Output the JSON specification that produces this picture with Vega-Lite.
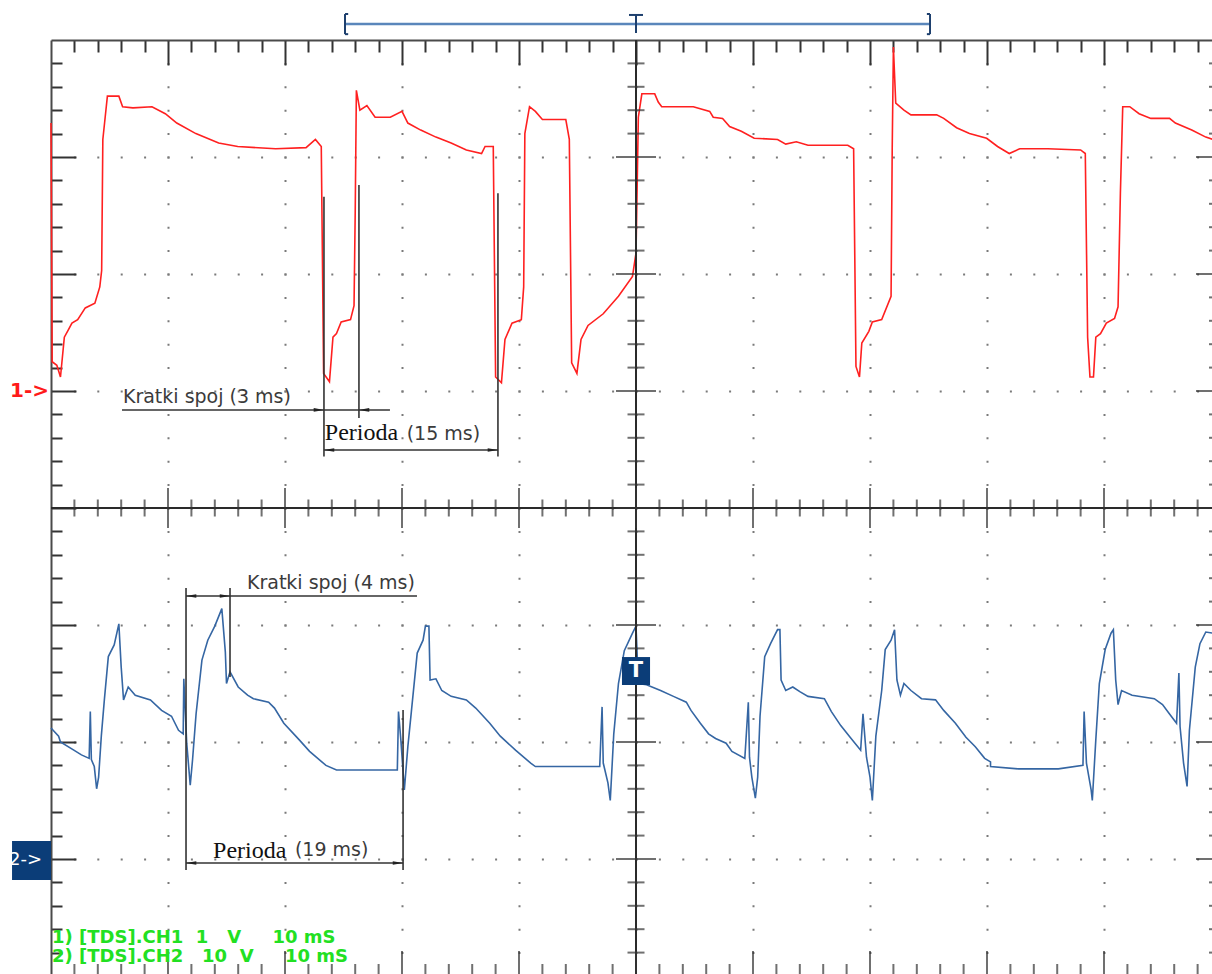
{
  "$schema": "https://vega.github.io/schema/vega-lite/v6.json",
  "width": 1161,
  "height": 934,
  "autosize": "none",
  "padding": {"left": 51, "top": 40, "right": 0, "bottom": 0},
  "background": "white",
  "config": {"view": {"stroke": null}},
  "resolve": {"axis": {"x": "independent", "y": "independent"}, "scale": {"color": "independent", "shape": "independent"}},
  "datasets": {
    "wave": [
      {"ch":"CH1","t":0,"v":3.29},{"ch":"CH1","t":0.1,"v":1.25},{"ch":"CH1","t":0.5,"v":1.22},{"ch":"CH1","t":0.81,"v":1.12},{"ch":"CH1","t":1.14,"v":1.46},{"ch":"CH1","t":1.47,"v":1.52},{"ch":"CH1","t":1.79,"v":1.58},{"ch":"CH1","t":2.28,"v":1.61},{"ch":"CH1","t":2.93,"v":1.71},{"ch":"CH1","t":3.75,"v":1.75},{"ch":"CH1","t":4.17,"v":1.89},{"ch":"CH1","t":4.33,"v":2.03},{"ch":"CH1","t":4.43,"v":3.15},{"ch":"CH1","t":4.63,"v":3.34},{"ch":"CH1","t":4.82,"v":3.52},{"ch":"CH1","t":5.8,"v":3.52},{"ch":"CH1","t":6.12,"v":3.43},{"ch":"CH1","t":7.0,"v":3.42},{"ch":"CH1","t":8.63,"v":3.43},{"ch":"CH1","t":9.77,"v":3.37},{"ch":"CH1","t":10.75,"v":3.29},{"ch":"CH1","t":12.38,"v":3.2},{"ch":"CH1","t":14.33,"v":3.12},{"ch":"CH1","t":15.96,"v":3.09},{"ch":"CH1","t":19.2,"v":3.07},{"ch":"CH1","t":21.8,"v":3.08},{"ch":"CH1","t":22.6,"v":3.15},{"ch":"CH1","t":23.1,"v":3.09},{"ch":"CH1","t":23.3,"v":1.15},{"ch":"CH1","t":23.8,"v":1.08},{"ch":"CH1","t":24.1,"v":1.46},{"ch":"CH1","t":24.4,"v":1.49},{"ch":"CH1","t":24.8,"v":1.59},{"ch":"CH1","t":25.6,"v":1.61},{"ch":"CH1","t":25.9,"v":1.73},{"ch":"CH1","t":26.0,"v":2.52},{"ch":"CH1","t":26.1,"v":3.57},{"ch":"CH1","t":26.4,"v":3.4},{"ch":"CH1","t":27.0,"v":3.44},{"ch":"CH1","t":27.7,"v":3.34},{"ch":"CH1","t":29.0,"v":3.34},{"ch":"CH1","t":30.0,"v":3.39},{"ch":"CH1","t":30.5,"v":3.29},{"ch":"CH1","t":31.6,"v":3.23},{"ch":"CH1","t":32.9,"v":3.17},{"ch":"CH1","t":34.2,"v":3.12},{"ch":"CH1","t":35.5,"v":3.06},{"ch":"CH1","t":36.8,"v":3.03},{"ch":"CH1","t":37.1,"v":3.09},{"ch":"CH1","t":37.8,"v":3.09},{"ch":"CH1","t":38.0,"v":1.12},{"ch":"CH1","t":38.5,"v":1.07},{"ch":"CH1","t":38.8,"v":1.44},{"ch":"CH1","t":39.4,"v":1.58},{"ch":"CH1","t":40.2,"v":1.61},{"ch":"CH1","t":40.4,"v":1.89},{"ch":"CH1","t":40.5,"v":3.2},{"ch":"CH1","t":40.9,"v":3.43},{"ch":"CH1","t":41.4,"v":3.39},{"ch":"CH1","t":42.0,"v":3.32},{"ch":"CH1","t":44.0,"v":3.32},{"ch":"CH1","t":44.3,"v":3.15},{"ch":"CH1","t":44.5,"v":1.24},{"ch":"CH1","t":44.95,"v":1.15},{"ch":"CH1","t":45.3,"v":1.44},{"ch":"CH1","t":45.9,"v":1.56},{"ch":"CH1","t":47.2,"v":1.66},{"ch":"CH1","t":48.5,"v":1.81},{"ch":"CH1","t":49.7,"v":1.98},{"ch":"CH1","t":50.0,"v":2.18},{"ch":"CH1","t":50.2,"v":3.34},{"ch":"CH1","t":50.5,"v":3.54},{"ch":"CH1","t":51.6,"v":3.54},{"ch":"CH1","t":51.9,"v":3.47},{"ch":"CH1","t":52.2,"v":3.43},{"ch":"CH1","t":54.9,"v":3.43},{"ch":"CH1","t":56.3,"v":3.39},{"ch":"CH1","t":56.6,"v":3.34},{"ch":"CH1","t":57.4,"v":3.33},{"ch":"CH1","t":58.0,"v":3.26},{"ch":"CH1","t":59.0,"v":3.22},{"ch":"CH1","t":60.1,"v":3.16},{"ch":"CH1","t":62.1,"v":3.15},{"ch":"CH1","t":62.8,"v":3.11},{"ch":"CH1","t":63.7,"v":3.13},{"ch":"CH1","t":64.7,"v":3.1},{"ch":"CH1","t":68.1,"v":3.1},{"ch":"CH1","t":68.6,"v":3.07},{"ch":"CH1","t":68.8,"v":1.21},{"ch":"CH1","t":69.1,"v":1.12},{"ch":"CH1","t":69.3,"v":1.41},{"ch":"CH1","t":69.9,"v":1.51},{"ch":"CH1","t":70.2,"v":1.59},{"ch":"CH1","t":71.0,"v":1.61},{"ch":"CH1","t":71.8,"v":1.81},{"ch":"CH1","t":71.9,"v":3.09},{"ch":"CH1","t":72.0,"v":3.94},{"ch":"CH1","t":72.2,"v":3.46},{"ch":"CH1","t":72.9,"v":3.4},{"ch":"CH1","t":73.5,"v":3.36},{"ch":"CH1","t":75.7,"v":3.36},{"ch":"CH1","t":76.3,"v":3.33},{"ch":"CH1","t":77.4,"v":3.25},{"ch":"CH1","t":78.5,"v":3.2},{"ch":"CH1","t":79.97,"v":3.16},{"ch":"CH1","t":80.9,"v":3.09},{"ch":"CH1","t":81.9,"v":3.03},{"ch":"CH1","t":82.8,"v":3.07},{"ch":"CH1","t":85.2,"v":3.07},{"ch":"CH1","t":88.0,"v":3.06},{"ch":"CH1","t":88.4,"v":3.03},{"ch":"CH1","t":88.6,"v":1.46},{"ch":"CH1","t":88.8,"v":1.12},{"ch":"CH1","t":89.1,"v":1.12},{"ch":"CH1","t":89.3,"v":1.46},{"ch":"CH1","t":89.7,"v":1.49},{"ch":"CH1","t":90.2,"v":1.58},{"ch":"CH1","t":90.9,"v":1.62},{"ch":"CH1","t":91.2,"v":1.72},{"ch":"CH1","t":91.4,"v":2.69},{"ch":"CH1","t":91.6,"v":3.43},{"ch":"CH1","t":92.2,"v":3.43},{"ch":"CH1","t":93.0,"v":3.37},{"ch":"CH1","t":94.0,"v":3.33},{"ch":"CH1","t":95.6,"v":3.33},{"ch":"CH1","t":96.1,"v":3.29},{"ch":"CH1","t":97.5,"v":3.23},{"ch":"CH1","t":98.7,"v":3.17},{"ch":"CH1","t":99.3,"v":3.15},
      {"ch":"CH2","t":0,"v":-1.88},{"ch":"CH2","t":0.65,"v":-1.95},{"ch":"CH2","t":0.81,"v":-2.0},{"ch":"CH2","t":1.95,"v":-2.07},{"ch":"CH2","t":2.6,"v":-2.11},{"ch":"CH2","t":3.26,"v":-2.14},{"ch":"CH2","t":3.36,"v":-1.74},{"ch":"CH2","t":3.45,"v":-2.15},{"ch":"CH2","t":3.7,"v":-2.21},{"ch":"CH2","t":3.9,"v":-2.4},{"ch":"CH2","t":4.07,"v":-2.3},{"ch":"CH2","t":4.3,"v":-1.95},{"ch":"CH2","t":4.56,"v":-1.64},{"ch":"CH2","t":4.9,"v":-1.27},{"ch":"CH2","t":5.4,"v":-1.17},{"ch":"CH2","t":5.8,"v":-0.99},{"ch":"CH2","t":6.0,"v":-1.36},{"ch":"CH2","t":6.2,"v":-1.64},{"ch":"CH2","t":6.6,"v":-1.53},{"ch":"CH2","t":7.2,"v":-1.6},{"ch":"CH2","t":8.5,"v":-1.64},{"ch":"CH2","t":9.45,"v":-1.73},{"ch":"CH2","t":10.3,"v":-1.78},{"ch":"CH2","t":10.9,"v":-1.9},{"ch":"CH2","t":11.3,"v":-1.93},{"ch":"CH2","t":11.35,"v":-1.46},{"ch":"CH2","t":11.6,"v":-2.01},{"ch":"CH2","t":11.9,"v":-2.37},{"ch":"CH2","t":12.1,"v":-2.15},{"ch":"CH2","t":12.4,"v":-1.76},{"ch":"CH2","t":12.9,"v":-1.3},{"ch":"CH2","t":13.4,"v":-1.13},{"ch":"CH2","t":14.0,"v":-1.01},{"ch":"CH2","t":14.6,"v":-0.86},{"ch":"CH2","t":14.9,"v":-1.23},{"ch":"CH2","t":15.0,"v":-1.5},{"ch":"CH2","t":15.3,"v":-1.4},{"ch":"CH2","t":16.0,"v":-1.53},{"ch":"CH2","t":16.8,"v":-1.6},{"ch":"CH2","t":17.3,"v":-1.63},{"ch":"CH2","t":18.6,"v":-1.66},{"ch":"CH2","t":19.1,"v":-1.71},{"ch":"CH2","t":19.9,"v":-1.84},{"ch":"CH2","t":21.2,"v":-1.98},{"ch":"CH2","t":22.1,"v":-2.08},{"ch":"CH2","t":23.5,"v":-2.2},{"ch":"CH2","t":24.4,"v":-2.24},{"ch":"CH2","t":28.3,"v":-2.24},{"ch":"CH2","t":29.6,"v":-2.24},{"ch":"CH2","t":29.7,"v":-1.74},{"ch":"CH2","t":29.9,"v":-1.98},{"ch":"CH2","t":30.2,"v":-2.41},{"ch":"CH2","t":30.5,"v":-2.04},{"ch":"CH2","t":30.8,"v":-1.74},{"ch":"CH2","t":31.3,"v":-1.24},{"ch":"CH2","t":31.8,"v":-1.13},{"ch":"CH2","t":32.0,"v":-1.01},{"ch":"CH2","t":32.3,"v":-1.01},{"ch":"CH2","t":32.4,"v":-1.47},{"ch":"CH2","t":32.9,"v":-1.46},{"ch":"CH2","t":33.4,"v":-1.56},{"ch":"CH2","t":34.2,"v":-1.61},{"ch":"CH2","t":35.5,"v":-1.64},{"ch":"CH2","t":36.3,"v":-1.71},{"ch":"CH2","t":37.5,"v":-1.84},{"ch":"CH2","t":38.4,"v":-1.95},{"ch":"CH2","t":39.7,"v":-2.07},{"ch":"CH2","t":41.0,"v":-2.18},{"ch":"CH2","t":41.4,"v":-2.21},{"ch":"CH2","t":46.9,"v":-2.21},{"ch":"CH2","t":47.1,"v":-1.7},{"ch":"CH2","t":47.2,"v":-2.18},{"ch":"CH2","t":47.6,"v":-2.35},{"ch":"CH2","t":47.8,"v":-2.5},{"ch":"CH2","t":48.1,"v":-1.93},{"ch":"CH2","t":48.5,"v":-1.5},{"ch":"CH2","t":49.0,"v":-1.22},{"ch":"CH2","t":49.7,"v":-1.07},{"ch":"CH2","t":50.0,"v":-1.01},{"ch":"CH2","t":50.2,"v":-1.5},{"ch":"CH2","t":50.9,"v":-1.51},{"ch":"CH2","t":52.1,"v":-1.56},{"ch":"CH2","t":53.2,"v":-1.61},{"ch":"CH2","t":54.3,"v":-1.66},{"ch":"CH2","t":54.7,"v":-1.73},{"ch":"CH2","t":55.5,"v":-1.84},{"ch":"CH2","t":56.2,"v":-1.93},{"ch":"CH2","t":56.8,"v":-1.97},{"ch":"CH2","t":57.7,"v":-2.01},{"ch":"CH2","t":58.2,"v":-2.08},{"ch":"CH2","t":59.3,"v":-2.14},{"ch":"CH2","t":59.6,"v":-1.66},{"ch":"CH2","t":59.7,"v":-2.13},{"ch":"CH2","t":59.9,"v":-2.3},{"ch":"CH2","t":60.2,"v":-2.48},{"ch":"CH2","t":60.4,"v":-2.3},{"ch":"CH2","t":60.6,"v":-1.78},{"ch":"CH2","t":61.0,"v":-1.27},{"ch":"CH2","t":61.5,"v":-1.16},{"ch":"CH2","t":62.1,"v":-1.04},{"ch":"CH2","t":62.3,"v":-1.04},{"ch":"CH2","t":62.4,"v":-1.47},{"ch":"CH2","t":62.8,"v":-1.56},{"ch":"CH2","t":63.4,"v":-1.53},{"ch":"CH2","t":64.0,"v":-1.57},{"ch":"CH2","t":64.7,"v":-1.61},{"ch":"CH2","t":66.1,"v":-1.63},{"ch":"CH2","t":66.7,"v":-1.74},{"ch":"CH2","t":67.5,"v":-1.86},{"ch":"CH2","t":68.3,"v":-1.96},{"ch":"CH2","t":69.2,"v":-2.07},{"ch":"CH2","t":69.4,"v":-1.76},{"ch":"CH2","t":69.7,"v":-2.13},{"ch":"CH2","t":70.0,"v":-2.3},{"ch":"CH2","t":70.2,"v":-2.5},{"ch":"CH2","t":70.5,"v":-1.95},{"ch":"CH2","t":71.0,"v":-1.56},{"ch":"CH2","t":71.3,"v":-1.21},{"ch":"CH2","t":71.8,"v":-1.13},{"ch":"CH2","t":72.1,"v":-1.04},{"ch":"CH2","t":72.3,"v":-1.47},{"ch":"CH2","t":72.6,"v":-1.6},{"ch":"CH2","t":72.9,"v":-1.5},{"ch":"CH2","t":73.5,"v":-1.56},{"ch":"CH2","t":74.4,"v":-1.63},{"ch":"CH2","t":75.6,"v":-1.64},{"ch":"CH2","t":76.3,"v":-1.73},{"ch":"CH2","t":77.3,"v":-1.84},{"ch":"CH2","t":78.2,"v":-1.96},{"ch":"CH2","t":79.0,"v":-2.04},{"ch":"CH2","t":79.8,"v":-2.14},{"ch":"CH2","t":80.3,"v":-2.17},{"ch":"CH2","t":80.3,"v":-2.21},{"ch":"CH2","t":82.7,"v":-2.23},{"ch":"CH2","t":86.1,"v":-2.23},{"ch":"CH2","t":88.2,"v":-2.2},{"ch":"CH2","t":88.3,"v":-1.74},{"ch":"CH2","t":88.5,"v":-2.18},{"ch":"CH2","t":88.9,"v":-2.41},{"ch":"CH2","t":89.0,"v":-2.5},{"ch":"CH2","t":89.3,"v":-1.98},{"ch":"CH2","t":89.6,"v":-1.5},{"ch":"CH2","t":90.1,"v":-1.21},{"ch":"CH2","t":90.6,"v":-1.07},{"ch":"CH2","t":90.8,"v":-1.04},{"ch":"CH2","t":91.0,"v":-1.47},{"ch":"CH2","t":91.2,"v":-1.68},{"ch":"CH2","t":91.5,"v":-1.56},{"ch":"CH2","t":92.4,"v":-1.6},{"ch":"CH2","t":94.3,"v":-1.63},{"ch":"CH2","t":95.0,"v":-1.68},{"ch":"CH2","t":95.6,"v":-1.76},{"ch":"CH2","t":96.2,"v":-1.84},{"ch":"CH2","t":96.4,"v":-1.41},{"ch":"CH2","t":96.5,"v":-1.87},{"ch":"CH2","t":96.8,"v":-2.18},{"ch":"CH2","t":97.1,"v":-2.38},{"ch":"CH2","t":97.3,"v":-1.9},{"ch":"CH2","t":97.8,"v":-1.36},{"ch":"CH2","t":98.2,"v":-1.16},{"ch":"CH2","t":98.7,"v":-1.06},{"ch":"CH2","t":99.3,"v":-1.07}
    ],
    "yt": [
      {"v":-3.8,"m":0},{"v":-3.6,"m":0},{"v":-3.4,"m":0},{"v":-3.2,"m":0},{"v":-3,"m":1},{"v":-2.8,"m":0},{"v":-2.6,"m":0},{"v":-2.4,"m":0},{"v":-2.2,"m":0},{"v":-2,"m":1},{"v":-1.8,"m":0},{"v":-1.6,"m":0},{"v":-1.4,"m":0},{"v":-1.2,"m":0},{"v":-1,"m":1},{"v":-0.8,"m":0},{"v":-0.6,"m":0},{"v":-0.4,"m":0},{"v":-0.2,"m":0},{"v":0,"m":1},{"v":0.2,"m":0},{"v":0.4,"m":0},{"v":0.6,"m":0},{"v":0.8,"m":0},{"v":1,"m":1},{"v":1.2,"m":0},{"v":1.4,"m":0},{"v":1.6,"m":0},{"v":1.8,"m":0},{"v":2,"m":1},{"v":2.2,"m":0},{"v":2.4,"m":0},{"v":2.6,"m":0},{"v":2.8,"m":0},{"v":3,"m":1},{"v":3.2,"m":0},{"v":3.4,"m":0},{"v":3.6,"m":0},{"v":3.8,"m":0}
    ],
    "xt": [
      {"t":2,"m":0},{"t":4,"m":0},{"t":6,"m":0},{"t":8,"m":0},{"t":10,"m":1},{"t":12,"m":0},{"t":14,"m":0},{"t":16,"m":0},{"t":18,"m":0},{"t":20,"m":1},{"t":22,"m":0},{"t":24,"m":0},{"t":26,"m":0},{"t":28,"m":0},{"t":30,"m":1},{"t":32,"m":0},{"t":34,"m":0},{"t":36,"m":0},{"t":38,"m":0},{"t":40,"m":1},{"t":42,"m":0},{"t":44,"m":0},{"t":46,"m":0},{"t":48,"m":0},{"t":50,"m":1},{"t":52,"m":0},{"t":54,"m":0},{"t":56,"m":0},{"t":58,"m":0},{"t":60,"m":1},{"t":62,"m":0},{"t":64,"m":0},{"t":66,"m":0},{"t":68,"m":0},{"t":70,"m":1},{"t":72,"m":0},{"t":74,"m":0},{"t":76,"m":0},{"t":78,"m":0},{"t":80,"m":1},{"t":82,"m":0},{"t":84,"m":0},{"t":86,"m":0},{"t":88,"m":0},{"t":90,"m":1},{"t":92,"m":0},{"t":94,"m":0},{"t":96,"m":0},{"t":98,"m":0}
    ],
    "cross": [{"t": 50, "v": 0}],
    "meas": [
      {"t":23.33,"t2":23.33,"v":2.66,"v2":0.44},
      {"t":26.32,"t2":26.32,"v":2.76,"v2":0.77},
      {"t":38.2,"t2":38.2,"v":2.69,"v2":0.44},
      {"t":6.07,"t2":28.97,"v":0.838,"v2":0.838},
      {"t":23.33,"t2":38.2,"v":0.496,"v2":0.496},
      {"t":11.54,"t2":11.54,"v":-0.684,"v2":-3.094},
      {"t":15.3,"t2":15.3,"v":-0.684,"v2":-1.444},
      {"t":30.09,"t2":30.09,"v":-1.726,"v2":-3.094},
      {"t":11.54,"t2":31.28,"v":-0.752,"v2":-0.752},
      {"t":11.54,"t2":30.09,"v":-3.034,"v2":-3.034}
    ],
    "arrows": [
      {"t":22.9,"v":0.838,"dir":"right"},
      {"t":26.75,"v":0.838,"dir":"left"},
      {"t":23.76,"v":0.496,"dir":"left"},
      {"t":37.77,"v":0.496,"dir":"right"},
      {"t":11.97,"v":-0.752,"dir":"left"},
      {"t":14.87,"v":-0.752,"dir":"right"},
      {"t":11.97,"v":-3.034,"dir":"left"},
      {"t":29.66,"v":-3.034,"dir":"right"}
    ],
    "bracket": [
      {"t":25.13,"t2":75.13,"v":4.137,"v2":4.137,"part":"span"},
      {"t":25.13,"t2":25.13,"v":4.05,"v2":4.222,"part":"end"},
      {"t":25.13,"t2":25.4,"v":4.222,"v2":4.222,"part":"end"},
      {"t":25.13,"t2":25.4,"v":4.05,"v2":4.05,"part":"end"},
      {"t":75.13,"t2":75.13,"v":4.05,"v2":4.222,"part":"end"},
      {"t":74.86,"t2":75.13,"v":4.222,"v2":4.222,"part":"end"},
      {"t":74.86,"t2":75.13,"v":4.05,"v2":4.05,"part":"end"},
      {"t":49.4,"t2":50.6,"v":4.214,"v2":4.214,"part":"end"},
      {"t":50,"t2":50,"v":4.214,"v2":4.06,"part":"end"}
    ],
    "boxes": [
      {"t":-3.33,"t2":0,"v":-2.846,"v2":-3.179},
      {"t":48.8,"t2":51.2,"v":-1.274,"v2":-1.513}
    ],
    "labels": [
      {"t":6.15,"v":0.897,"text":"Kratki spoj (3 ms)","kind":"sans"},
      {"t":30.4,"v":0.581,"text":"(15 ms)","kind":"sans"},
      {"t":16.75,"v":-0.692,"text":"Kratki spoj (4 ms)","kind":"sans"},
      {"t":20.85,"v":-2.978,"text":"(19 ms)","kind":"sans"},
      {"t":23.4,"v":0.581,"text":"Perioda","kind":"serif"},
      {"t":13.85,"v":-2.994,"text":"Perioda","kind":"serif"},
      {"t":0.085,"v":-3.718,"text":"1) [TDS].CH1\u00a0\u00a01\u00a0\u00a0\u00a0V\u00a0\u00a0\u00a0\u00a0\u00a010 mS","kind":"green"},
      {"t":0.085,"v":-3.88,"text":"2) [TDS].CH2\u00a0\u00a0\u00a010\u00a0\u00a0V\u00a0\u00a0\u00a0\u00a0\u00a010 mS","kind":"green"},
      {"t":-3.5,"v":1,"text":"1->","kind":"red"},
      {"t":-3.59,"v":-3.009,"text":"2->","kind":"white"},
      {"t":50,"v":-1.393,"text":"T","kind":"trig"}
    ]
  },
  "layer": [
    {
      "data": {"name": "wave"},
      "mark": {"type": "line", "strokeWidth": 1.6, "interpolate": "linear"},
      "encoding": {
        "x": {
          "field": "t", "type": "quantitative",
          "scale": {"domain": [0, 99.23], "nice": false, "zero": false},
          "axis": {
            "orient": "top", "title": null, "labels": false,
            "values": [2,4,6,8,10,12,14,16,18,20,22,24,26,28,30,32,34,36,38,40,42,44,46,48,50,52,54,56,58,60,62,64,66,68,70,72,74,76,78,80,82,84,86,88,90,92,94,96,98],
            "domain": true, "domainColor": "#4a4a4a", "domainWidth": 2,
            "ticks": true, "tickColor": "#333333", "tickWidth": 2,
            "tickSize": {"condition": {"test": "datum.value % 10 === 0", "value": -25}, "value": -12},
            "grid": true, "gridColor": "#7a7a7a", "gridWidth": 2, "gridDash": [2, 21.4], "gridDashOffset": 3,
            "gridOpacity": {"condition": {"test": "datum.value % 10 === 0", "value": 1}, "value": 0}
          }
        },
        "y": {
          "field": "v", "type": "quantitative",
          "scale": {"domain": [-3.983, 4], "nice": false, "zero": false},
          "axis": {
            "orient": "left", "title": null, "labels": false,
            "values": [-3.8,-3.6,-3.4,-3.2,-3,-2.8,-2.6,-2.4,-2.2,-2,-1.8,-1.6,-1.4,-1.2,-1,-0.8,-0.6,-0.4,-0.2,0,0.2,0.4,0.6,0.8,1,1.2,1.4,1.6,1.8,2,2.2,2.4,2.6,2.8,3,3.2,3.4,3.6,3.8],
            "domain": true, "domainColor": "#4a4a4a", "domainWidth": 2,
            "ticks": true, "tickColor": "#333333", "tickWidth": 2,
            "tickSize": {"condition": {"test": "abs(datum.value - round(datum.value)) < 0.01", "value": -25}, "value": -11},
            "grid": true, "gridColor": "#7a7a7a", "gridWidth": 2, "gridDash": [2, 21.4], "gridDashOffset": 1,
            "gridOpacity": {"condition": {"test": "abs(datum.value - round(datum.value)) < 0.01", "value": 1}, "value": 0}
          }
        },
        "color": {"field": "ch", "type": "nominal", "scale": {"domain": ["CH1", "CH2"], "range": ["#ff2020", "#3566a3"]}, "legend": null},
        "order": {"value": null}
      }
    },
    {
      "data": {"name": "cross"},
      "mark": {"type": "rule", "color": "#2a2a2a", "strokeWidth": 2},
      "encoding": {
        "x": {"field": "t", "type": "quantitative", "scale": {"domain": [0, 99.23], "nice": false, "zero": false}, "axis": null}
      }
    },
    {
      "data": {"name": "cross"},
      "mark": {"type": "rule", "color": "#2a2a2a", "strokeWidth": 2},
      "encoding": {
        "y": {"field": "v", "type": "quantitative", "scale": {"domain": [-3.983, 4], "nice": false, "zero": false}, "axis": null}
      }
    },
    {
      "data": {"name": "yt"},
      "mark": {"type": "tick", "orient": "horizontal", "thickness": 2, "color": "#333333"},
      "encoding": {
        "x": {"datum": 50, "type": "quantitative", "scale": {"domain": [0, 99.23], "nice": false, "zero": false}, "axis": null},
        "y": {"field": "v", "type": "quantitative", "scale": {"domain": [-3.983, 4], "nice": false, "zero": false}, "axis": null},
        "size": {"condition": {"test": "datum.m == 1", "value": 40}, "value": 17}
      }
    },
    {
      "data": {"name": "yt"},
      "mark": {"type": "tick", "orient": "horizontal", "thickness": 2, "color": "#333333"},
      "encoding": {
        "x": {"datum": 100, "type": "quantitative", "scale": {"domain": [0, 99.23], "nice": false, "zero": false}, "axis": null},
        "y": {"field": "v", "type": "quantitative", "scale": {"domain": [-3.983, 4], "nice": false, "zero": false}, "axis": null},
        "size": {"condition": {"test": "datum.m == 1", "value": 50}, "value": 24}
      }
    },
    {
      "data": {"name": "xt"},
      "mark": {"type": "tick", "orient": "vertical", "thickness": 2, "color": "#333333"},
      "encoding": {
        "x": {"field": "t", "type": "quantitative", "scale": {"domain": [0, 99.23], "nice": false, "zero": false}, "axis": null},
        "y": {"datum": 0, "type": "quantitative", "scale": {"domain": [-3.983, 4], "nice": false, "zero": false}, "axis": null},
        "size": {"condition": {"test": "datum.m == 1", "value": 40}, "value": 17}
      }
    },
    {
      "data": {"name": "xt"},
      "mark": {"type": "tick", "orient": "vertical", "thickness": 2, "color": "#333333"},
      "encoding": {
        "x": {"field": "t", "type": "quantitative", "scale": {"domain": [0, 99.23], "nice": false, "zero": false}, "axis": null},
        "y": {"datum": -4, "type": "quantitative", "scale": {"domain": [-3.983, 4], "nice": false, "zero": false}, "axis": null},
        "size": {"condition": {"test": "datum.m == 1", "value": 50}, "value": 24}
      }
    },
    {
      "data": {"name": "meas"},
      "mark": {"type": "rule", "color": "#333333", "strokeWidth": 1.6},
      "encoding": {
        "x": {"field": "t", "type": "quantitative", "scale": {"domain": [0, 99.23], "nice": false, "zero": false}, "axis": null},
        "x2": {"field": "t2"},
        "y": {"field": "v", "type": "quantitative", "scale": {"domain": [-3.983, 4], "nice": false, "zero": false}, "axis": null},
        "y2": {"field": "v2"}
      }
    },
    {
      "data": {"name": "arrows"},
      "mark": {"type": "point", "filled": true, "size": 110, "color": "#222222", "opacity": 1},
      "encoding": {
        "x": {"field": "t", "type": "quantitative", "scale": {"domain": [0, 99.23], "nice": false, "zero": false}, "axis": null},
        "y": {"field": "v", "type": "quantitative", "scale": {"domain": [-3.983, 4], "nice": false, "zero": false}, "axis": null},
        "shape": {"field": "dir", "type": "nominal", "scale": {"domain": ["left", "right"], "range": ["M1,-0.35L-1,0L1,0.35Z", "M-1,-0.35L1,0L-1,0.35Z"]}, "legend": null}
      }
    },
    {
      "data": {"name": "bracket"},
      "transform": [{"filter": "datum.part == 'span'"}],
      "mark": {"type": "rule", "strokeWidth": 2.5, "color": "#5a86bb"},
      "encoding": {
        "x": {"field": "t", "type": "quantitative", "scale": {"domain": [0, 99.23], "nice": false, "zero": false}, "axis": null},
        "x2": {"field": "t2"},
        "y": {"field": "v", "type": "quantitative", "scale": {"domain": [-3.983, 4], "nice": false, "zero": false}, "axis": null},
        "y2": {"field": "v2"}
      }
    },
    {
      "data": {"name": "bracket"},
      "transform": [{"filter": "datum.part == 'end'"}],
      "mark": {"type": "rule", "strokeWidth": 2, "color": "#1e406e"},
      "encoding": {
        "x": {"field": "t", "type": "quantitative", "scale": {"domain": [0, 99.23], "nice": false, "zero": false}, "axis": null},
        "x2": {"field": "t2"},
        "y": {"field": "v", "type": "quantitative", "scale": {"domain": [-3.983, 4], "nice": false, "zero": false}, "axis": null},
        "y2": {"field": "v2"}
      }
    },
    {
      "data": {"name": "boxes"},
      "mark": {"type": "rect", "color": "#0b3d78"},
      "encoding": {
        "x": {"field": "t", "type": "quantitative", "scale": {"domain": [0, 99.23], "nice": false, "zero": false}, "axis": null},
        "x2": {"field": "t2"},
        "y": {"field": "v", "type": "quantitative", "scale": {"domain": [-3.983, 4], "nice": false, "zero": false}, "axis": null},
        "y2": {"field": "v2"}
      }
    },
    {
      "data": {"name": "labels"},
      "transform": [{"filter": "datum.kind == 'sans'"}],
      "mark": {"type": "text", "align": "left", "baseline": "alphabetic", "font": "DejaVu Sans", "fontSize": 19, "color": "#3b3b3b"},
      "encoding": {
        "x": {"field": "t", "type": "quantitative", "scale": {"domain": [0, 99.23], "nice": false, "zero": false}, "axis": null},
        "y": {"field": "v", "type": "quantitative", "scale": {"domain": [-3.983, 4], "nice": false, "zero": false}, "axis": null},
        "text": {"field": "text"}
      }
    },
    {
      "data": {"name": "labels"},
      "transform": [{"filter": "datum.kind == 'serif'"}],
      "mark": {"type": "text", "align": "left", "baseline": "alphabetic", "font": "Liberation Serif", "fontSize": 24, "color": "#111111"},
      "encoding": {
        "x": {"field": "t", "type": "quantitative", "scale": {"domain": [0, 99.23], "nice": false, "zero": false}, "axis": null},
        "y": {"field": "v", "type": "quantitative", "scale": {"domain": [-3.983, 4], "nice": false, "zero": false}, "axis": null},
        "text": {"field": "text"}
      }
    },
    {
      "data": {"name": "labels"},
      "transform": [{"filter": "datum.kind == 'green'"}],
      "mark": {"type": "text", "align": "left", "baseline": "alphabetic", "font": "DejaVu Sans", "fontWeight": "bold", "fontSize": 18, "color": "#22e022"},
      "encoding": {
        "x": {"field": "t", "type": "quantitative", "scale": {"domain": [0, 99.23], "nice": false, "zero": false}, "axis": null},
        "y": {"field": "v", "type": "quantitative", "scale": {"domain": [-3.983, 4], "nice": false, "zero": false}, "axis": null},
        "text": {"field": "text"}
      }
    },
    {
      "data": {"name": "labels"},
      "transform": [{"filter": "datum.kind == 'red'"}],
      "mark": {"type": "text", "align": "left", "baseline": "middle", "font": "DejaVu Sans", "fontWeight": "bold", "fontSize": 20, "color": "#ff1a1a"},
      "encoding": {
        "x": {"field": "t", "type": "quantitative", "scale": {"domain": [0, 99.23], "nice": false, "zero": false}, "axis": null},
        "y": {"field": "v", "type": "quantitative", "scale": {"domain": [-3.983, 4], "nice": false, "zero": false}, "axis": null},
        "text": {"field": "text"}
      }
    },
    {
      "data": {"name": "labels"},
      "transform": [{"filter": "datum.kind == 'white'"}],
      "mark": {"type": "text", "align": "left", "baseline": "middle", "font": "DejaVu Sans", "fontSize": 18, "color": "#ffffff"},
      "encoding": {
        "x": {"field": "t", "type": "quantitative", "scale": {"domain": [0, 99.23], "nice": false, "zero": false}, "axis": null},
        "y": {"field": "v", "type": "quantitative", "scale": {"domain": [-3.983, 4], "nice": false, "zero": false}, "axis": null},
        "text": {"field": "text"}
      }
    },
    {
      "data": {"name": "labels"},
      "transform": [{"filter": "datum.kind == 'trig'"}],
      "mark": {"type": "text", "align": "center", "baseline": "middle", "font": "DejaVu Sans", "fontWeight": "bold", "fontSize": 21, "color": "#ffffff"},
      "encoding": {
        "x": {"field": "t", "type": "quantitative", "scale": {"domain": [0, 99.23], "nice": false, "zero": false}, "axis": null},
        "y": {"field": "v", "type": "quantitative", "scale": {"domain": [-3.983, 4], "nice": false, "zero": false}, "axis": null},
        "text": {"field": "text"}
      }
    }
  ]
}
